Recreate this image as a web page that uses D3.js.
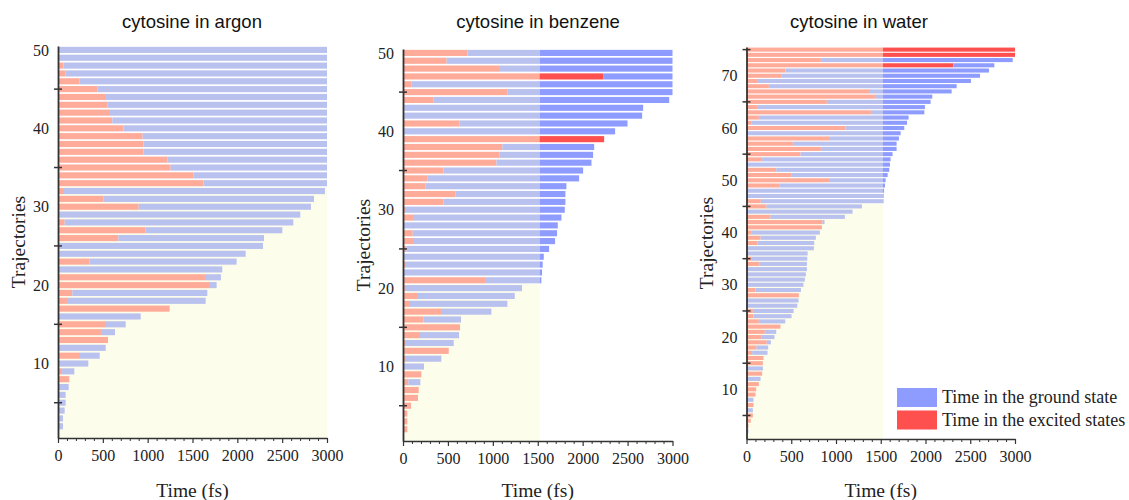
<!DOCTYPE html>
<html>
<head>
<meta charset="utf-8">
<script src="https://cdn.jsdelivr.net/npm/d3@7"></script>
<style>
  body { margin: 0; background: #fff; }
  svg { display: block; }
</style>
</head>
<body>
<script>
// trajectory lengths (fs), trajectory 1 at the bottom
const argonTotal = [8, 56, 56, 74, 85, 85, 119, 126, 182, 338, 465, 532, 558, 636, 755, 922, 1245, 1647, 1665, 1769,
  1817, 1832, 1992, 2093, 2286, 2297, 2502, 2624, 2702, 2821, 2855, 2977, 3000, 3000, 3000, 3000, 3000, 3000, 3000, 3000,
  3000, 3000, 3000, 3000, 3000, 3000, 3000, 3000, 3000, 3000];
const argonExcited = [8, 0, 0, 22, 0, 0, 0, 126, 45, 0, 245, 0, 558, 480, 524, 0, 1245, 100, 160, 1684,
  1639, 22, 349, 0, 0, 673, 974, 74, 0, 900, 509, 67, 1621, 1509, 1256, 1219, 952, 952, 944, 729,
  606, 580, 550, 524, 442, 238, 85, 60, 22, 0];

const benzeneTotal = [0, 48, 48, 48, 89, 167, 175, 193, 204, 234, 427, 509, 564, 624, 635, 646, 984, 1162, 1244, 1325,
  1540, 1548, 1555, 1567, 1626, 1693, 1715, 1723, 1764, 1801, 1808, 1808, 1819, 1960, 2005, 2098, 2116, 2128, 2239, 2361,
  2499, 2662, 2673, 2963, 3000, 3000, 3000, 3000, 3000, 3000];
const benzeneExcited = [0, 48, 48, 48, 89, 167, 175, 59, 204, 0, 22, 509, 22, 189, 635, 226, 423, 78, 156, 22,
  913, 0, 22, 0, 37, 111, 108, 0, 111, 22, 449, 587, 252, 275, 449, 1040, 1077, 1106, 2239, 0,
  627, 0, 0, 342, 1166, 97, 2228, 1069, 486, 717];

const waterTotal = [15, 22, 22, 48, 71, 71, 78, 78, 101, 108, 138, 157, 175, 183, 183, 190, 235, 242, 272, 313,
  332, 380, 433, 503, 526, 567, 581, 585, 608, 637, 652, 663, 675, 675, 679, 683, 753, 757, 775, 820,
  842, 872, 1099, 1185, 1289, 1530, 1532, 1537, 1547, 1554, 1577, 1595, 1603, 1610, 1632, 1677, 1677, 1703, 1722, 1763,
  1793, 1811, 1987, 1994, 2057, 2076, 2292, 2348, 2508, 2609, 2709, 2769, 2974, 3000, 3000];
const waterExcited = [15, 0, 22, 48, 71, 0, 78, 0, 101, 108, 138, 0, 175, 0, 183, 190, 63, 112, 227, 171,
  205, 380, 138, 78, 71, 0, 0, 585, 101, 0, 7, 0, 0, 142, 60, 0, 0, 123, 157, 52,
  842, 850, 268, 0, 224, 160, 0, 0, 365, 921, 499, 332, 0, 175, 604, 831, 518, 921, 0, 1107,
  52, 138, 1390, 127, 898, 1435, 1368, 250, 127, 395, 436, 2311, 831, 3000, 3000];

const titles = ['cytosine in argon', 'cytosine in benzene', 'cytosine in water'];
const xTicks = [0, 500, 1000, 1500, 2000, 2500, 3000];
const legendLabels = ['Time in the ground state', 'Time in the excited states'];

const COL = {
  groundPale: '#b9c1ee', excitedPale: '#ffab99',
  ground: '#8e9cff', excited: '#ff5050',
  yellow: '#fdfdec', axis: '#333'
};
const SERIF = '"Liberation Serif", "Times New Roman", serif';
const SANS = '"Liberation Sans", Arial, sans-serif';

const panels = [
  { title: titles[0], total: argonTotal, excited: argonExcited, cutoff: 3000,
    x0: 58, x1: 327, top: 46, bottom: 438, trajX: 19, titleX: 192 },
  { title: titles[1], total: benzeneTotal, excited: benzeneExcited, cutoff: 1520,
    x0: 403, x1: 672.5, top: 49, bottom: 441, trajX: 364, titleX: 538 },
  { title: titles[2], total: waterTotal, excited: waterExcited, cutoff: 1525,
    x0: 746.5, x1: 1015, top: 47, bottom: 439, trajX: 707, titleX: 859, legend: true }
];

const svg = d3.select('body').append('svg')
  .attr('width', 1129)
  .attr('height', 500);

panels.forEach((p) => {
  const n = p.total.length;
  const g = svg.append('g');

  const x = d3.scaleLinear().domain([0, 3000]).range([p.x0, p.x1]);
  const y = d3.scaleLinear().domain([0.5, n + 0.5]).range([p.bottom, p.top]);
  const step = y(1) - y(2);
  const barH = step * 0.78;

  // light yellow area below the first trajectory that reaches the cutoff
  const nShort = p.total.filter(t => t < p.cutoff).length;
  g.append('rect')
    .attr('x', x(0))
    .attr('y', y(nShort + 0.5))
    .attr('width', x(p.cutoff) - x(0))
    .attr('height', y(0.5) - y(nShort + 0.5))
    .attr('fill', COL.yellow);

  // split each trajectory into excited/ground pieces, pale before cutoff
  const segs = [];
  p.total.forEach((tot, i) => {
    const ex = Math.min(p.excited[i], tot);
    const parts = [[0, ex, 'excited'], [ex, tot, 'ground']];
    parts.forEach(([a, b, kind]) => {
      if (b <= a) return;
      if (a < p.cutoff) segs.push({ i: i + 1, a: a, b: Math.min(b, p.cutoff), col: kind === 'excited' ? COL.excitedPale : COL.groundPale });
      if (b > p.cutoff) segs.push({ i: i + 1, a: Math.max(a, p.cutoff), b: b, col: kind === 'excited' ? COL.excited : COL.ground });
    });
  });

  g.append('g')
    .selectAll('rect')
    .data(segs)
    .enter()
    .append('rect')
    .attr('x', d => x(d.a))
    .attr('y', d => y(d.i) - barH / 2)
    .attr('width', d => x(d.b) - x(d.a))
    .attr('height', barH)
    .attr('fill', d => d.col);

  // x axis: major + minor ticks
  const xMinor = d3.range(0, 3001, 100).filter(v => v % 500 !== 0);
  g.append('g')
    .attr('transform', `translate(0,${p.bottom})`)
    .call(d3.axisBottom(x).tickValues(xMinor).tickSize(3).tickFormat(''))
    .call(a => a.select('.domain').remove())
    .call(a => a.selectAll('line').attr('stroke', COL.axis).attr('stroke-width', 1));
  const xAx = g.append('g')
    .attr('transform', `translate(0,${p.bottom})`)
    .call(d3.axisBottom(x).tickValues(xTicks).tickSize(5).tickSizeOuter(0).tickPadding(7).tickFormat(d3.format('d')));
  xAx.select('.domain').attr('stroke', COL.axis).attr('stroke-width', 1.5);
  xAx.selectAll('line').attr('stroke', COL.axis).attr('stroke-width', 1.2);
  xAx.selectAll('text').attr('font-family', SERIF).attr('font-size', 16).attr('fill', '#222');

  // y axis: labelled majors, minor ticks crossing the line
  const yMajor = d3.range(10, n + 1, 10);
  const yMinor = d3.range(5, n + 1, 10);
  const yAx = g.append('g')
    .attr('transform', `translate(${p.x0},0)`)
    .call(d3.axisLeft(y).tickValues(yMajor).tickSize(0).tickSizeOuter(0).tickPadding(9));
  yAx.select('.domain').attr('stroke', COL.axis).attr('stroke-width', 1.8);
  yAx.selectAll('text').attr('font-family', SERIF).attr('font-size', 16).attr('fill', '#222');
  g.append('g')
    .selectAll('line')
    .data(yMinor)
    .enter()
    .append('line')
    .attr('x1', p.x0 - 4)
    .attr('x2', p.x0 + 4)
    .attr('y1', d => y(d))
    .attr('y2', d => y(d))
    .attr('stroke', COL.axis)
    .attr('stroke-width', 1.5);

  // titles and axis labels
  g.append('text')
    .attr('x', p.titleX)
    .attr('y', 28)
    .attr('text-anchor', 'middle')
    .attr('font-family', SANS)
    .attr('font-size', 18.5)
    .attr('fill', '#111')
    .text(p.title);

  g.append('text')
    .attr('x', (p.x0 + p.x1) / 2)
    .attr('y', 497)
    .attr('text-anchor', 'middle')
    .attr('font-family', SERIF)
    .attr('font-size', 19.5)
    .attr('fill', '#222')
    .text('Time (fs)');

  g.append('text')
    .attr('transform', `translate(${p.trajX + 6},${(p.top + p.bottom) / 2}) rotate(-90)`)
    .attr('text-anchor', 'middle')
    .attr('font-family', SERIF)
    .attr('font-size', 19.5)
    .attr('fill', '#222')
    .text('Trajectories');

  if (p.legend) {
    const leg = g.append('g').attr('transform', 'translate(897,388)');
    const cols = [COL.ground, COL.excited];
    legendLabels.forEach((lab, i) => {
      leg.append('rect')
        .attr('x', 0)
        .attr('y', i * 22.5)
        .attr('width', 40)
        .attr('height', 19)
        .attr('fill', cols[i]);
      leg.append('text')
        .attr('x', 45)
        .attr('y', i * 22.5 + 15)
        .attr('font-family', SERIF)
        .attr('font-size', 18)
        .attr('fill', '#222')
        .text(lab);
    });
  }
});
</script>
</body>
</html>
